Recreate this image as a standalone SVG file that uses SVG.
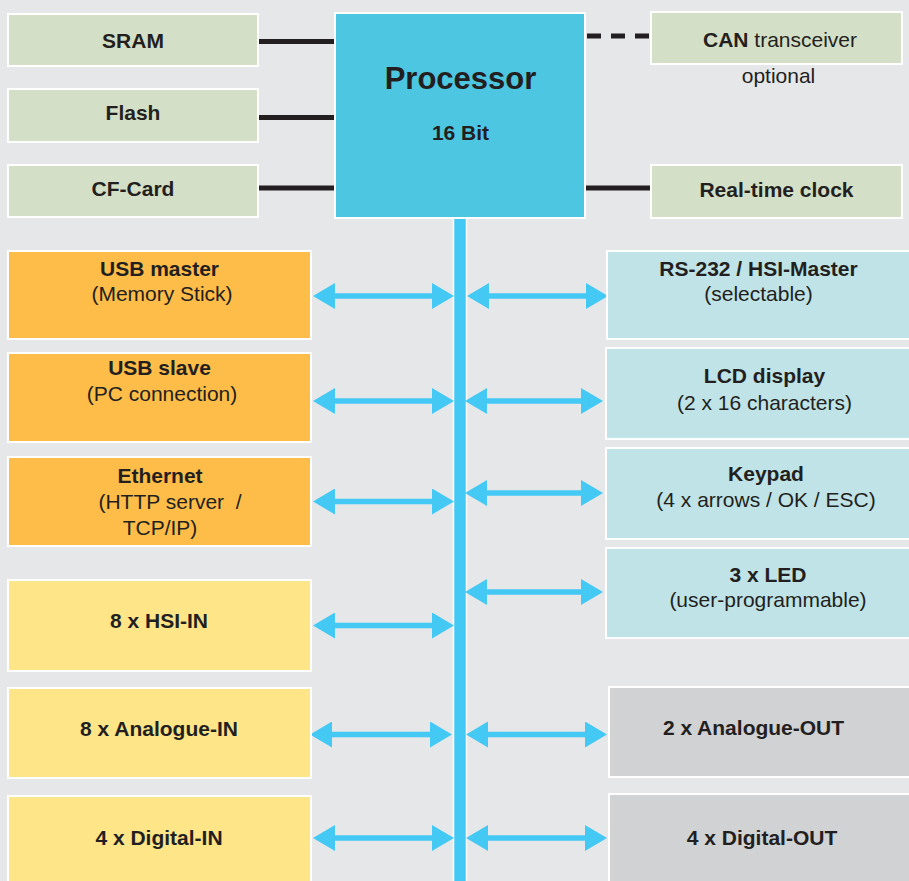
<svg xmlns="http://www.w3.org/2000/svg" width="909" height="881" viewBox="0 0 909 881">
<defs>
<style>
.bg{fill:#e6e7e9}
.box{stroke:#ffffff;stroke-width:2}
.g{fill:#d3dfc6}
.p{fill:#4dc6e2}
.o{fill:#fdbd48}
.y{fill:#fee587}
.c{fill:#bfe3e6}
.gr{fill:#d1d2d4}
text{font-family:"Liberation Sans",Arial,Helvetica,sans-serif;fill:#231f20;font-size:21px;text-anchor:middle}
.b{font-weight:bold}
.wire{stroke:#231f20;stroke-width:5;fill:none}
.arr{stroke:#44c8f4;stroke-width:5.5;fill:none;marker-start:url(#ah);marker-end:url(#ah)}
</style>
<marker id="ah" markerUnits="userSpaceOnUse" markerWidth="22" markerHeight="26" refX="10" refY="13" orient="auto-start-reverse">
<path d="M0,0 L22,13 L0,26 Z" fill="#44c8f4"/>
</marker>
</defs>
<rect class="bg" x="0" y="0" width="909" height="881"/>

<g id="connectors">
<line class="wire" x1="259" y1="41.5" x2="335" y2="41.5"/>
<line class="wire" x1="259" y1="117.5" x2="335" y2="117.5"/>
<line class="wire" x1="259" y1="188" x2="335" y2="188"/>
<line class="wire" x1="585" y1="188" x2="651" y2="188"/>
<line class="wire" x1="587" y1="36" x2="651" y2="36" stroke-dasharray="14 10"/>
<rect x="453.5" y="218" width="13" height="670" fill="#44c8f4" stroke="#ffffff" stroke-width="1.5"/>
<line class="arr" x1="325" y1="296" x2="442" y2="296"/>
<line class="arr" x1="479" y1="296" x2="596" y2="296"/>
<line class="arr" x1="325" y1="401" x2="442" y2="401"/>
<line class="arr" x1="477" y1="401" x2="591" y2="401"/>
<line class="arr" x1="325" y1="501.5" x2="442" y2="501.5"/>
<line class="arr" x1="477" y1="493" x2="591" y2="493"/>
<line class="arr" x1="477" y1="592" x2="591" y2="592"/>
<line class="arr" x1="325" y1="625.5" x2="442" y2="625.5"/>
<line class="arr" x1="322" y1="734.5" x2="440" y2="734.5"/>
<line class="arr" x1="478" y1="734.5" x2="595" y2="734.5"/>
<line class="arr" x1="325" y1="838" x2="442" y2="838"/>
<line class="arr" x1="478" y1="838" x2="595" y2="838"/>
</g>

<g id="sram"><rect class="box g" x="8" y="14" width="250" height="52"/><text class="b" x="133" y="48">SRAM</text></g>
<g id="flash"><rect class="box g" x="8" y="89" width="250" height="53"/><text class="b" x="133" y="120">Flash</text></g>
<g id="cfcard"><rect class="box g" x="8" y="165" width="250" height="52"/><text class="b" x="133" y="196">CF-Card</text></g>
<g id="processor"><rect class="box p" x="335" y="13" width="250" height="205"/><text class="b" x="460.5" y="89" style="font-size:31px">Processor</text><text class="b" x="460.5" y="140">16 Bit</text></g>
<g id="can"><rect class="box g" x="651" y="12" width="251" height="52"/><text x="780" y="47"><tspan class="b">CAN</tspan> transceiver</text><text x="778.5" y="83">optional</text></g>
<g id="rtc"><rect class="box g" x="651" y="165" width="251" height="53"/><text class="b" x="776.5" y="197">Real-time clock</text></g>

<g id="usbmaster"><rect class="box o" x="8" y="251" width="303" height="88"/><text class="b" x="159.5" y="276">USB master</text><text x="162" y="301">(Memory Stick)</text></g>
<g id="usbslave"><rect class="box o" x="8" y="353" width="303" height="89"/><text class="b" x="159.5" y="375">USB slave</text><text x="162" y="401">(PC connection)</text></g>
<g id="ethernet"><rect class="box o" x="8" y="457" width="303" height="89"/><text class="b" x="160" y="483">Ethernet</text><text x="170" y="509" xml:space="preserve" style="white-space:pre">(HTTP server  /</text><text x="160" y="535">TCP/IP)</text></g>
<g id="hsiin"><rect class="box y" x="8" y="580" width="303" height="91"/><text class="b" x="159" y="628">8 x HSI-IN</text></g>
<g id="analogin"><rect class="box y" x="8" y="688" width="303" height="90"/><text class="b" x="159" y="736">8 x Analogue-IN</text></g>
<g id="digitalin"><rect class="box y" x="8" y="796" width="303" height="100"/><text class="b" x="159" y="845">4 x Digital-IN</text></g>

<g id="rs232"><rect class="box c" x="607" y="251" width="320" height="88"/><text class="b" x="758.5" y="276">RS-232 / HSI-Master</text><text x="758.5" y="301">(selectable)</text></g>
<g id="lcd"><rect class="box c" x="606" y="348" width="320" height="91"/><text class="b" x="764.5" y="383">LCD display</text><text x="764.5" y="410">(2 x 16 characters)</text></g>
<g id="keypad"><rect class="box c" x="606" y="448" width="320" height="91"/><text class="b" x="766" y="481">Keypad</text><text x="766" y="507">(4 x arrows / OK / ESC)</text></g>
<g id="led"><rect class="box c" x="606" y="548" width="320" height="90"/><text class="b" x="768" y="582">3 x LED</text><text x="768" y="607">(user-programmable)</text></g>
<g id="analogout"><rect class="box gr" x="609" y="687" width="320" height="90"/><text class="b" x="753.5" y="735">2 x Analogue-OUT</text></g>
<g id="digitalout"><rect class="box gr" x="609" y="794" width="320" height="100"/><text class="b" x="762" y="845">4 x Digital-OUT</text></g>
</svg>
